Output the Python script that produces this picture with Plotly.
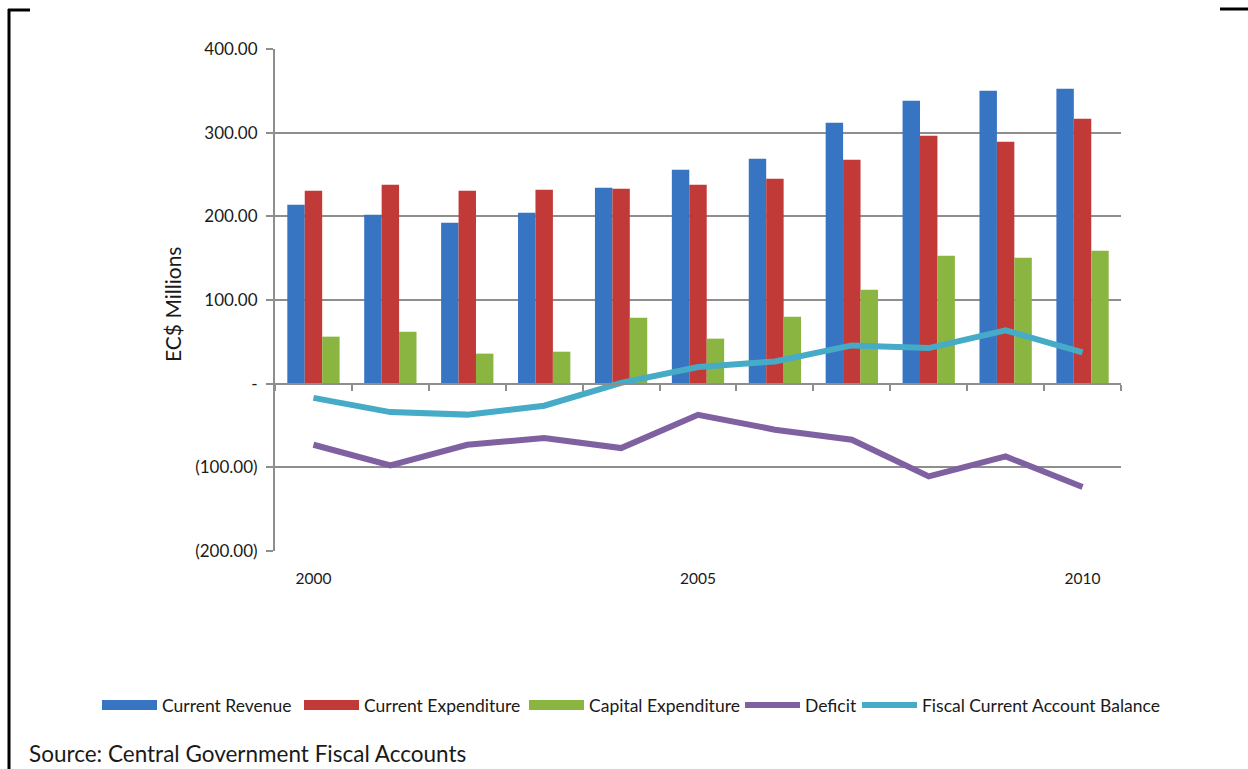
import plotly.graph_objects as go

years = [2000, 2001, 2002, 2003, 2004, 2005, 2006, 2007, 2008, 2009, 2010]
current_revenue = [213.9, 201.9, 192.3, 204.3, 234.1, 255.7, 268.8, 311.8, 338.0, 350.0, 352.4]
current_expenditure = [230.6, 237.7, 230.6, 231.7, 232.9, 237.7, 244.9, 267.7, 296.2, 289.0, 316.6]
capital_expenditure = [56.2, 62.1, 35.9, 38.2, 78.9, 53.8, 80.0, 112.3, 152.8, 150.5, 158.8]
deficit = [-73.0, -97.6, -73.0, -65.0, -77.0, -37.2, -55.0, -67.0, -110.8, -87.0, -123.6]
fiscal_balance = [-17.0, -34.0, -37.0, -26.4, 1.0, 19.9, 26.6, 45.7, 42.5, 63.6, 37.4]

y_ticks = [-200, -100, 0, 100, 200, 300, 400]
y_tick_text = ["(200.00)", "(100.00)", "-", "100.00", "200.00", "300.00", "400.00"]
x_ticks = [2000, 2005, 2010]

FONT = "Lato, 'Open Sans', sans-serif"
GRID = "#8e8e8e"
W, H = 1248, 769

bar_series = [
    ("Current Revenue", current_revenue, "#3774c2"),
    ("Current Expenditure", current_expenditure, "#c23a37"),
    ("Capital Expenditure", capital_expenditure, "#8ab540"),
]
line_series = [
    ("Deficit", deficit, "#7f60a1"),
    ("Fiscal Current Account Balance", fiscal_balance, "#46abc6"),
]
# left edge (px) of each legend entry along the bottom row
legend_left = [97, 299, 524, 740, 857]

fig = go.Figure()
for i, (name, vals, color) in enumerate(bar_series):
    lg = "legend" if i == 0 else f"legend{i + 1}"
    fig.add_trace(go.Bar(x=years, y=vals, name=name, legendgroup=name, showlegend=False,
                         marker=dict(color=color, line=dict(width=0))))
    # wide swatch for the legend row
    fig.add_trace(go.Scatter(x=[None], y=[None], name=name, legendgroup=name, legend=lg,
                             mode="lines", line=dict(color=color, width=10), hoverinfo="skip"))
for j, (name, vals, color) in enumerate(line_series):
    lg = f"legend{j + 4}"
    fig.add_trace(go.Scatter(x=years, y=vals, name=name, legend=lg, mode="lines",
                             line=dict(color=color, width=6)))

# zero-line axis carrying the category separator ticks
fig.add_trace(go.Scatter(x=[years[0]], y=[0], xaxis="x2", mode="markers",
                         marker=dict(opacity=0), showlegend=False, hoverinfo="skip"))

x_range = [years[0] - 0.5, years[-1] + 0.5]

legend_common = dict(orientation="h", xref="container", yref="container",
                     y=1 - 705 / H, xanchor="left", yanchor="middle",
                     font=dict(size=17.5), itemwidth=55, bgcolor="rgba(0,0,0,0)",
                     borderwidth=0)
legends = {}
for k, left in enumerate(legend_left):
    key = "legend" if k == 0 else f"legend{k + 1}"
    legends[key] = dict(legend_common, x=left / W)

fig.update_layout(
    width=W, height=H,
    paper_bgcolor="white", plot_bgcolor="white",
    margin=dict(l=275, r=127, t=49, b=218, autoexpand=False),
    barmode="group", bargap=0.32, bargroupgap=0,
    font=dict(family=FONT, size=15, color="#1a1a1a"),
    xaxis=dict(range=x_range, tickvals=x_ticks, ticktext=[str(v) for v in x_ticks],
               showgrid=False, showline=False, zeroline=False, ticks="",
               tickfont=dict(size=15.5), ticklabelstandoff=16),
    xaxis2=dict(overlaying="x", anchor="free", position=1/3, range=x_range,
                tickvals=[y + 0.5 for y in [years[0] - 1] + years], showticklabels=False,
                ticks="outside", ticklen=6, tickwidth=2, tickcolor=GRID,
                showline=True, linecolor=GRID, linewidth=2, showgrid=False, zeroline=False),
    yaxis=dict(range=[-200, 400], tickvals=y_ticks, ticktext=y_tick_text,
               showgrid=True, gridcolor=GRID, gridwidth=2, zeroline=False,
               showline=True, linecolor=GRID, linewidth=2,
               ticks="outside", ticklen=7, tickwidth=2, tickcolor=GRID,
               tickfont=dict(size=17), ticklabelstandoff=5),
    showlegend=True,
    **legends,
)

fig.add_annotation(text="EC$ Millions", xref="paper", yref="paper",
                   x=(172 - 275) / 846, y=(551 - 305) / 502, textangle=-90,
                   xanchor="center", yanchor="middle", showarrow=False,
                   font=dict(size=21, color="#1a1a1a"))
fig.add_annotation(text="Source: Central Government Fiscal Accounts", xref="paper", yref="paper",
                   x=-0.293, y=-0.403, xanchor="left", yanchor="middle", showarrow=False,
                   font=dict(size=22.5, color="#1a1a1a"))

# page frame corners
frame = dict(type="line", xref="paper", yref="paper", line=dict(color="black", width=3))
px = lambda v: (v - 275) / 846
py = lambda v: (551 - v) / 502
fig.add_shape(**frame, x0=px(9), x1=px(9), y0=py(9), y1=py(769))
fig.add_shape(**frame, x0=px(8), x1=px(30), y0=py(10), y1=py(10))
fig.add_shape(**frame, x0=px(1220), x1=px(1248), y0=py(9), y1=py(9))

fig.write_html("out.html")
